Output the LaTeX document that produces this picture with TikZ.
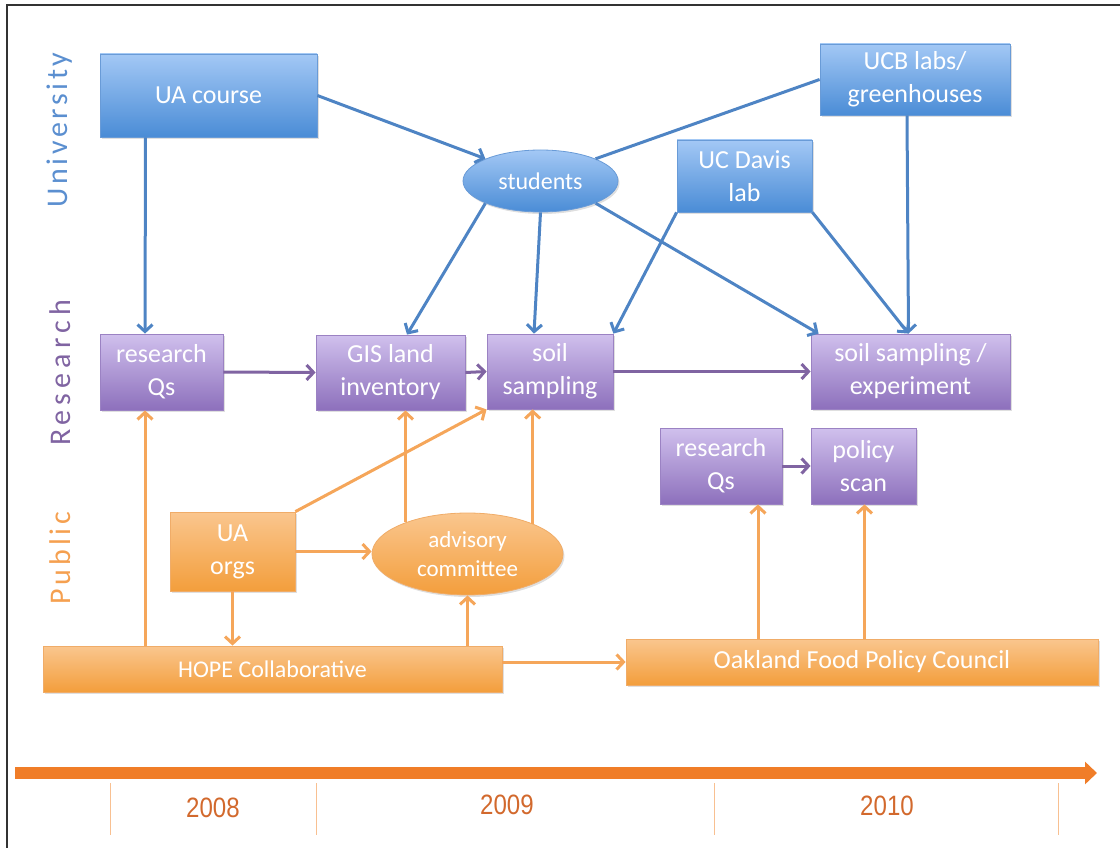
\documentclass[tikz,border=0pt]{standalone}
\usepackage{fontspec}
\setmainfont{Carlito}
\newfontfamily\yearfont[FakeStretch=0.86]{Liberation Sans}
\newfontfamily\bandfont{Carlito}
\usetikzlibrary{arrows.meta,shapes.geometric,shadows}

\definecolor{unitop}{RGB}{163,200,245}
\definecolor{unibot}{RGB}{74,140,214}
\definecolor{uniedge}{RGB}{105,155,215}
\definecolor{uniline}{RGB}{78,132,196}
\definecolor{unilab}{RGB}{91,143,208}
\definecolor{restop}{RGB}{208,192,237}
\definecolor{resbot}{RGB}{141,112,188}
\definecolor{resedge}{RGB}{155,130,195}
\definecolor{resline}{RGB}{128,100,162}
\definecolor{reslab}{RGB}{128,100,162}
\definecolor{pubtop}{RGB}{250,198,142}
\definecolor{pubbot}{RGB}{243,158,60}
\definecolor{pubedge}{RGB}{240,172,104}
\definecolor{publine}{RGB}{245,166,90}
\definecolor{publab}{RGB}{245,160,80}
\definecolor{tline}{RGB}{240,125,40}
\definecolor{tick}{RGB}{248,192,145}
\definecolor{yearcol}{RGB}{210,105,45}

\tikzset{
  card/.style={line width=0.8pt, text=white, align=center, inner sep=2pt,
    font=\fontsize{26}{33}\selectfont,
    drop shadow={shadow xshift=1.5pt, shadow yshift=-2pt, opacity=0.25}},
  unibox/.style={card, rectangle, draw=uniedge, top color=unitop, bottom color=unibot},
  resbox/.style={card, rectangle, draw=resedge, top color=restop, bottom color=resbot},
  pubbox/.style={card, rectangle, draw=pubedge, top color=pubtop, bottom color=pubbot},
  blob/.style={ellipse, inner sep=0pt},
  link/.style={line width=3pt, -{Straight Barb[length=7pt,width=15pt]}},
  unilink/.style={link, draw=uniline},
  reslink/.style={link, draw=resline},
  publink/.style={link, draw=publine},
  bandlab/.style={rotate=90, font=\bandfont\fontsize{30}{32}\selectfont},
  yearlab/.style={text=yearcol, font=\yearfont\fontsize{28}{30}\selectfont}
}

\begin{document}
\begin{tikzpicture}[x=1pt,y=-1pt]
    \useasboundingbox (0,0) rectangle (1120,848);
    \draw[line width=1.5pt,black!80] (7,848) -- (7,5) -- (1120,5);

    \node[bandlab,text=unilab] (lbuni) at (60,130) {\addfontfeature{LetterSpace=12}University};
    \node[bandlab,text=reslab] (lbres) at (60,373) {\addfontfeature{LetterSpace=17}Research};
    \node[bandlab,text=publab] (lbpub) at (60,558) {\addfontfeature{LetterSpace=13}Public};

    \node[unibox,minimum width=217,minimum height=83] (uac) at (208.5,95.5) {UA course};
    \node[unibox,blob,minimum width=155,minimum height=62,font=\fontsize{24}{28}\selectfont] (stud) at (540.5,181) {students};
    \node[unibox,minimum width=190,minimum height=71] (ucb) at (915,79.5) {UCB labs/\\greenhouses};
    \node[unibox,minimum width=135,minimum height=72] (dav) at (744.5,176) {UC Davis\\lab};

    \node[resbox,minimum width=123,minimum height=76] (rqa) at (161.5,372) {research\\Qs};
    \node[resbox,minimum width=149,minimum height=75] (gis) at (390.5,372.5) {GIS land\\inventory};
    \node[resbox,minimum width=126,minimum height=75] (ss) at (550,371.5) {soil\\sampling};
    \node[resbox,minimum width=199,minimum height=75] (ssx) at (910.5,371.5) {soil sampling /\\experiment};
    \node[resbox,minimum width=122,minimum height=76] (rqb) at (721,466) {research\\Qs};
    \node[resbox,minimum width=105,minimum height=76] (pol) at (863.5,466) {policy\\scan};

    \node[pubbox,minimum width=125,minimum height=79] (uao) at (232.5,551.5) {UA\\orgs};
    \node[pubbox,blob,minimum width=191,minimum height=82,font=\fontsize{23}{29}\selectfont] (adv) at (467.5,554) {advisory\\committee};
    \node[pubbox,minimum width=459,minimum height=46,font=\fontsize{24}{28}\selectfont] (hope) at (272.5,669) {HOPE Collaborative};
    \node[pubbox,minimum width=472,minimum height=46] (oak) at (862,662) {Oakland Food Policy Council};

    \draw[unilink] ([xshift=-63]uac.south) -- ([xshift=-16.5]rqa.north);
    \draw[unilink] (uac.east) -- (stud.north west);
    \draw[unilink,-] (stud.north east) -- (ucb.west);
    \draw[unilink] (stud.south west) -- ([xshift=16.5]gis.north);
    \draw[unilink] (stud.south) -- ([xshift=-16]ss.north);
    \draw[unilink] (stud.south east) -- ([xshift=8]ssx.north west);
    \draw[unilink] (dav.south west) -- (ss.north east);
    \draw[unilink] (dav.south east) -- ([xshift=-2]ssx.north);
    \draw[unilink] ([xshift=-8]ucb.south) -- ([xshift=-2]ssx.north);

    \draw[reslink] (rqa.east) -- (gis.west);
    \draw[reslink] (gis.east) -- (ss.west);
    \draw[reslink] (ss.east) -- (ssx.west);
    \draw[reslink] (rqb.east) -- (pol.west);

    \draw[publink] ([xshift=-127.5]hope.north) -- ([xshift=-16.5]rqa.south);
    \draw[publink] (uao.north east) -- (ss.south west);
    \draw[publink] (uao.east) -- (uao.east -| adv.west);
    \draw[publink] (uao.south) -- (uao.south |- hope.north);
    \draw[publink] (adv.153) -- (adv.153 |- gis.south);
    \draw[publink] (adv.25) -- (adv.25 |- ss.south);
    \draw[publink] (hope.north -| adv.south) -- (adv.south);
    \draw[publink] (oak.west -| hope.east) -- (oak.west);
    \draw[publink] ([xshift=-104]oak.north) -- ([xshift=37]rqb.south);
    \draw[publink] ([xshift=2.5]oak.north) -- ([xshift=1]pol.south);

    \draw[line width=12pt,tline,-{Triangle[length=12pt,width=22pt]}] (15,773) -- (1097,773);
    \foreach \tx in {110,316,714,1058}
        \draw[line width=1pt,tick] (\tx,783) -- (\tx,835);
    \node[yearlab] (yra) at (213,808) {2008};
    \node[yearlab] (yrb) at (507,805) {2009};
    \node[yearlab] (yrc) at (887,806) {2010};
\end{tikzpicture}
\end{document}
